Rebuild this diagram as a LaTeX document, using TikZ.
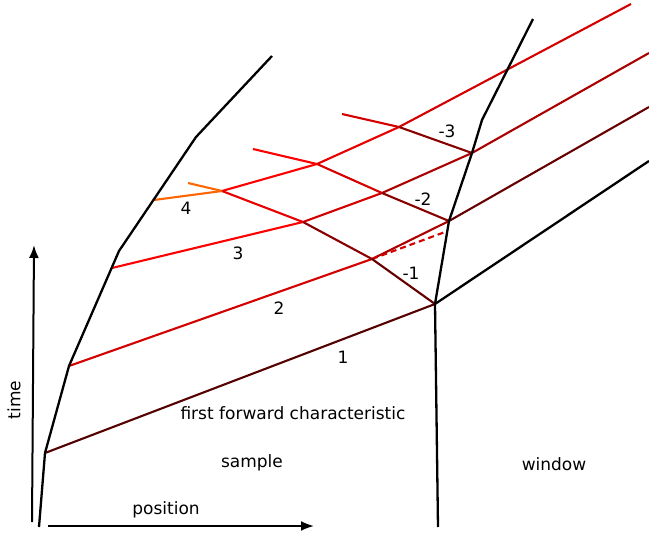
\documentclass[tikz,border=0pt]{standalone}
\usepackage{fontspec}
\setmainfont{DejaVu Sans}
\usetikzlibrary{arrows.meta}

\definecolor{orng}{HTML}{FF6600}
\definecolor{redA}{HTML}{FF0000}
\definecolor{redB}{HTML}{E80000}
\definecolor{redC}{HTML}{D40000}
\definecolor{redD}{HTML}{AA0000}
\definecolor{redE}{HTML}{880000}
\definecolor{redF}{HTML}{660000}
\definecolor{redG}{HTML}{550000}

\begin{document}
\begin{tikzpicture}[
            x=1pt, y=-1pt,
            bnd/.style={draw, line width=2.3pt, line join=round},
            chr/.style={draw, line width=2.1pt},
            lbl/.style={font=\fontsize{17}{20}\selectfont, inner sep=0pt},
            >={Latex[length=13pt,width=10pt]}
        ]
        \useasboundingbox (0,0) rectangle (649,533);

        % sample boundary
        \coordinate (s0) at (39,527);
        \coordinate (s1) at (45,453);
        \coordinate (s2) at (69,366);
        \coordinate (k3) at (119,251);
        \coordinate (s5) at (196,137);
        \coordinate (s6) at (272,56);
        \coordinate (s3) at (112,268);
        \coordinate (s4) at (154,200);
        % window boundary
        \coordinate (w0) at (438,527);
        \coordinate (w1) at (435,304);
        \coordinate (w2) at (449,221);
        \coordinate (w3) at (472,153);
        \coordinate (w4) at (482,120);
        \coordinate (w5) at (533,19);
        % crossings
        \coordinate (x21) at (372,259);
        \coordinate (x31) at (303,222);
        \coordinate (x41) at (222,191);
        \coordinate (x32) at (382,193);
        \coordinate (x42) at (317,164);
        \coordinate (x43) at (399,127);
        % free ends
        \coordinate (e1) at (188,183);
        \coordinate (e2) at (253,149);
        \coordinate (e3) at (342,114);
        \coordinate (d2) at (445,232);
        \coordinate (t1) at (649,161);
        \coordinate (t2) at (649,107);
        \coordinate (t3) at (649,53);
        \coordinate (t4) at (631,4);

        % axes
        \coordinate (o1) at (32,522);
        \coordinate (ty) at (34,245);
        \coordinate (o2) at (48,526);
        \coordinate (px) at (314,526);
        \draw[->, line width=2pt] (o1) -- (ty);
        \draw[->, line width=2pt] (o2) -- (px);

        % forward characteristics
        \draw[chr, redG] (s1) -- (w1);
        \draw[chr, redC] (s2) -- (x21);
        \draw[chr, redD] (x21) -- (w2);
        \draw[chr, redC, dashed, dash pattern=on 6pt off 4pt] (x21) -- (d2);
        \draw[chr, redA] (s3) -- (x31);
        \draw[chr, redC] (x31) -- (x32);
        \draw[chr, redD] (x32) -- (w3);
        \draw[chr, orng] (s4) -- (x41);
        \draw[chr, redA] (x41) -- (x42);
        \draw[chr, redB] (x42) -- (x43);
        \draw[chr, redC] (x43) -- (t4);

        % transmitted
        \draw[chr, redF] (w2) -- (t2);
        \draw[chr, redD] (w3) -- (t3);

        % reflected characteristics
        \draw[chr, redF] (w1) -- (x21);
        \draw[chr, redE] (x21) -- (x31);
        \draw[chr, redB] (x31) -- (x41);
        \draw[chr, orng] (x41) -- (e1);
        \draw[chr, redE] (w2) -- (x32);
        \draw[chr, redC] (x32) -- (x42);
        \draw[chr, redA] (x42) -- (e2);
        \draw[chr, redE] (w3) -- (x43);
        \draw[chr, redC] (x43) -- (e3);

        % boundaries
        \draw[bnd] (s0) -- (s1) -- (s2) -- (k3) -- (s5) -- (s6);
        \draw[bnd] (w0) -- (w1) -- (w2) -- (w3) -- (w4) -- (w5);
        \draw[bnd] (w1) -- (t1);

        % labels
        \node[lbl] (n1) at (343,357) {1};
        \node[lbl] (n2) at (279,308) {2};
        \node[lbl] (n3) at (238,253) {3};
        \node[lbl] (n4) at (186,208) {4};
        \node[lbl] (m1) at (411,273) {-1};
        \node[lbl] (m2) at (423,199) {-2};
        \node[lbl] (m3) at (447,131) {-3};
        \node[lbl] (ffc) at (293,413) {first forward characteristic};
        \node[lbl] (smp) at (252,463) {sample};
        \node[lbl] (win) at (554,464) {window};
        \node[lbl] (pos) at (166,510) {position};
        \node[lbl, rotate=90] (tim) at (14,400) {time};
    \end{tikzpicture}
\end{document}
